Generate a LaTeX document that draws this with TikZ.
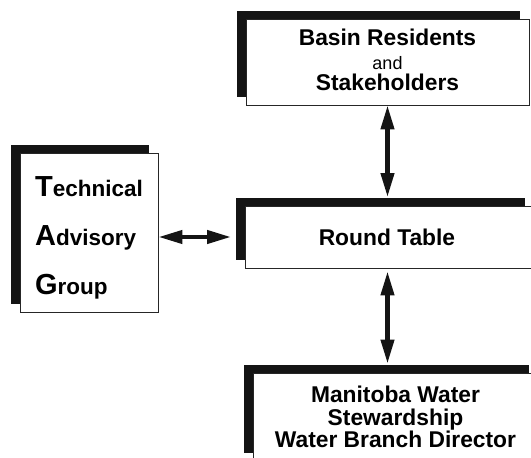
\documentclass[tikz,border=0pt]{standalone}
\usepackage{fontspec}
\setmainfont{Liberation Sans}
\usetikzlibrary{arrows.meta,shadows}
\newcommand{\initial}[1]{{\fontsize{29}{29}\selectfont #1}}
\begin{document}
\begin{tikzpicture}[x=1pt,y=-1pt,
  panel/.style={rectangle, draw=black!85, line width=0.9pt, fill=white, inner sep=0pt,
    general shadow={fill=black!92, shadow xshift=-9.5pt, shadow yshift=8.5pt},
    font=\bfseries\fontsize{22.8}{22.8}\selectfont, align=center},
  link/.style={line width=4.2pt, black!92, {Triangle[length=24pt,width=13pt]}-{Triangle[length=24pt,width=13pt]}}
]
\useasboundingbox (0,0) rectangle (531,458);
\clip (0,0) rectangle (531,458);

% boxes
\node[panel, minimum width=283pt, minimum height=86pt] (residents) at (387.5,62)
  {Basin Residents\\[1pt]{\mdseries\fontsize{18}{18}\selectfont and}\\[-2pt]Stakeholders\rule[-4pt]{0pt}{0pt}};

\node[panel, anchor=west, minimum width=289pt, minimum height=62pt] (table) at (245,237)
  {Round Table\hspace*{6pt}};

\node[panel, minimum width=138pt, minimum height=159pt, align=left,
      font=\bfseries\fontsize{22.5}{49}\selectfont] (tag) at (89,232.5)
  {\rule{0pt}{30pt}\initial{T}echnical\\
   \initial{A}dvisory\\
   \initial{G}roup};

\node[panel, minimum width=285pt, minimum height=88pt] (director) at (395.5,417)
  {Manitoba Water\\Stewardship\\Water Branch Director};

% connectors
\draw[link, shorten >=14pt] (tag.east |- table.west) -- (table.west);
\draw[link, shorten >=8.5pt] (residents.south) -- (residents.south |- table.north);
\draw[link, shorten <=3pt, shorten >=9pt] (residents.south |- table.south) -- (residents.south |- director.north);
\end{tikzpicture}
\end{document}
